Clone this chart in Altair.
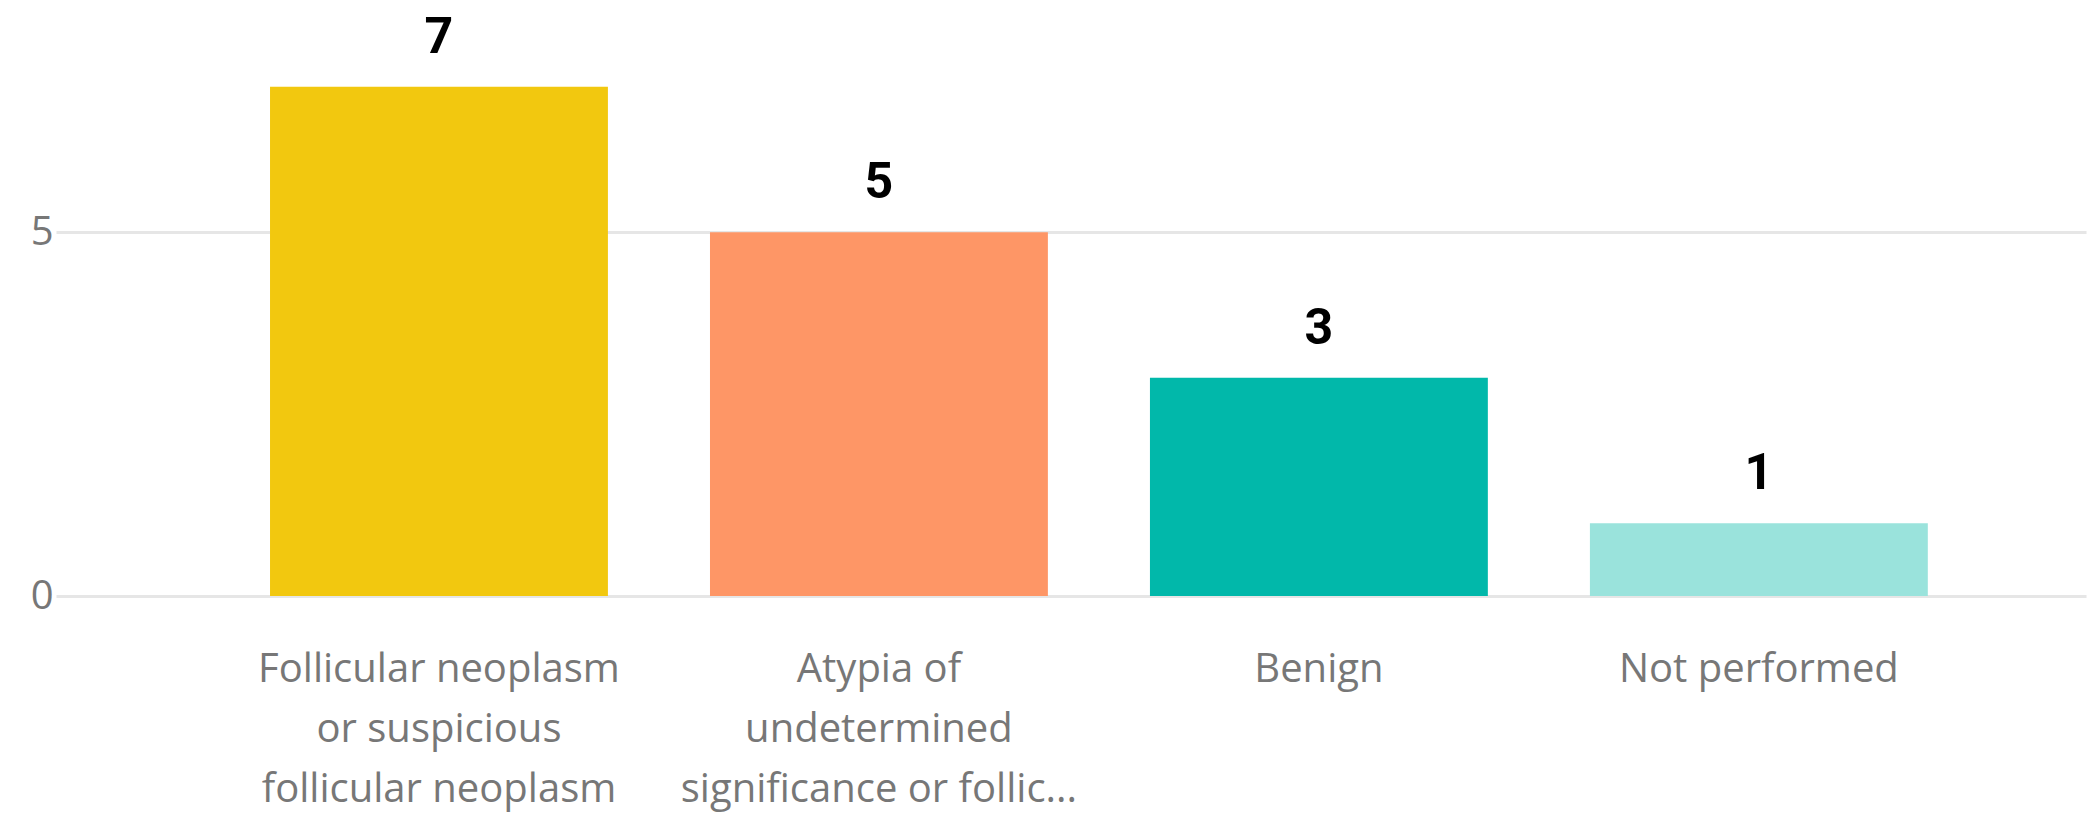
import altair as alt
import pandas as pd

categories = [
    "Follicular neoplasm|or suspicious|follicular neoplasm",
    "Atypia of|undetermined|significance or follic...",
    "Benign",
    "Not performed",
]
counts = [7, 5, 3, 1]
colors = ["#F2C80F", "#FE9666", "#01B8AA", "#9AE3DC"]
y_ticks = [0, 5]

df = pd.DataFrame({"category": categories, "count": counts, "color": colors})

x_enc = alt.X(
    "category:N",
    sort=categories,
    title=None,
    scale=alt.Scale(paddingInner=0.232, paddingOuter=0.423, align=0.575),
    axis=alt.Axis(
        labelExpr="split(datum.label, '|')",
        labelAngle=0,
        labelFont="Open Sans",
        labelFontSize=40,
        labelColor="#777777",
        labelLineHeight=60,
        labelPadding=53,
        labelBaseline="top",
        labelLimit=1000,
        domain=False,
        ticks=False,
        grid=False,
    ),
)

y_enc = alt.Y(
    "count:Q",
    title=None,
    scale=alt.Scale(domain=[0, 8.043], nice=False),
    axis=alt.Axis(
        values=y_ticks,
        format="d",
        labelFont="Open Sans",
        labelFontSize=40,
        labelColor="#777777",
        labelPadding=3,
        minExtent=43,
        domain=False,
        ticks=False,
        gridColor="#E6E6E6",
        gridWidth=3,
    ),
)

base = alt.Chart(df).encode(x=x_enc, y=y_enc)

bars = base.mark_bar().encode(color=alt.Color("color:N", scale=None))

labels = base.mark_text(
    font="Roboto",
    fontSize=50,
    fontWeight="bold",
    color="#000000",
    baseline="middle",
    dy=-49,
).encode(text=alt.Text("count:Q"))

chart = (
    alt.layer(bars, labels)
    .properties(
        width=2030,
        height=585,
        padding={"top": 3, "left": 5, "right": 5, "bottom": 5},
    )
    .configure_view(stroke=None)
)

chart.save("out.html", embed_options={"renderer": "svg", "actions": False})
